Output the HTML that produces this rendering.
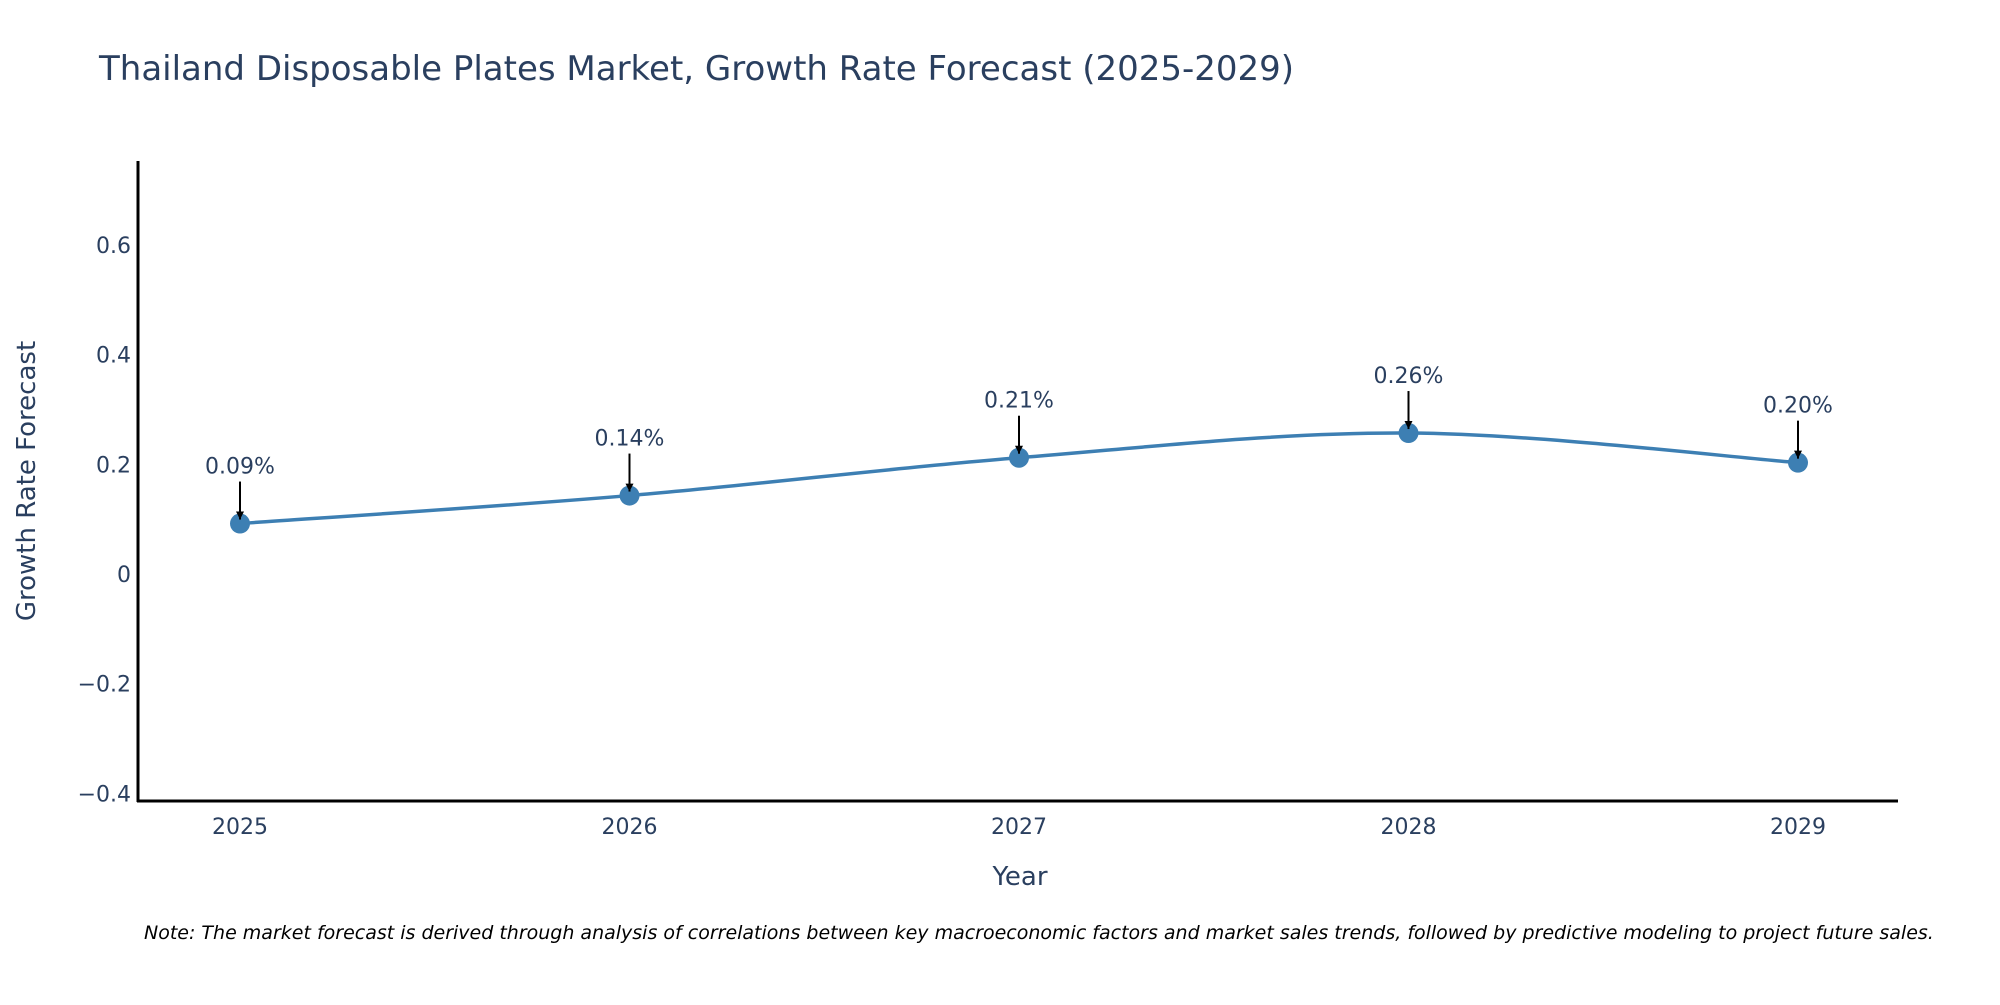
<!DOCTYPE html>
<html><head><meta charset="utf-8"><style>
body{margin:0;background:#fff;overflow:hidden;}
svg text{font-family:"DejaVu Sans","Liberation Sans",sans-serif;fill:#2a3f5f;}
</style></head><body>
<svg id="chart" width="2000" height="1000" xmlns="http://www.w3.org/2000/svg">
<defs><marker id="ah" viewBox="0 0 10 10" refX="10" refY="5" markerWidth="4" markerHeight="4" markerUnits="strokeWidth" orient="auto"><path d="M0,0 L10,5 L0,10 z" fill="#000"/></marker></defs>
<text x="99" y="80" font-size="34">Thailand Disposable Plates Market, Growth Rate Forecast (2025-2029)</text>
<g id="yticks"></g><g id="xticks"></g>
<line x1="138" y1="161" x2="138" y2="802" stroke="#000" stroke-width="3"/>
<line x1="137" y1="801" x2="1898" y2="801" stroke="#000" stroke-width="3"/>
<path id="line" fill="none" stroke="#3d7fb3" stroke-width="3.5"/>
<g id="pts"></g><g id="ann"></g>
<text x="1020" y="885" font-size="26" text-anchor="middle">Year</text>
<text transform="translate(35,481) rotate(-90)" font-size="26" text-anchor="middle">Growth Rate Forecast</text>
<text x="144" y="939" font-size="19" font-style="italic" style="fill:#000">Note: The market forecast is derived through analysis of correlations between key macroeconomic factors and market sales trends, followed by predictive modeling to project future sales.</text>
</svg>
<script>
const years=[2025,2026,2027,2028,2029];
const values=[0.092,0.143,0.212,0.257,0.203];
const labels=["0.09%","0.14%","0.21%","0.26%","0.20%"];
const yTicks=[-0.4,-0.2,0,0.2,0.4,0.6];
const yTickLabels=["\u22120.4","\u22120.2","0","0.2","0.4","0.6"];
const NS="http://www.w3.org/2000/svg";
const X=v=>240+(v-2025)*389.5;
const Y=v=>574-v*548.5;
function mk(t,a,p){const e=document.createElementNS(NS,t);for(const k in a)e.setAttribute(k,a[k]);p.appendChild(e);return e;}
const yt=document.getElementById('yticks');
yTicks.forEach((t,i)=>{const e=mk('text',{x:131,y:Y(t)+8,'font-size':22,'text-anchor':'end'},yt);e.textContent=yTickLabels[i];

});
const xt=document.getElementById('xticks');
years.forEach(y=>{const e=mk('text',{x:X(y),y:834,'font-size':22,'text-anchor':'middle'},xt);e.textContent=y;

});
const P=years.map((y,i)=>[X(y),Y(values[i])]);
let d='M'+P[0][0]+','+P[0][1];
for(let i=0;i<P.length-1;i++){const p0=P[Math.max(0,i-1)],p1=P[i],p2=P[i+1],p3=P[Math.min(P.length-1,i+2)];
const c1=[p1[0]+(p2[0]-p0[0])/6,p1[1]+(p2[1]-p0[1])/6],c2=[p2[0]-(p3[0]-p1[0])/6,p2[1]-(p3[1]-p1[1])/6];
d+=` C${c1[0]},${c1[1]} ${c2[0]},${c2[1]} ${p2[0]},${p2[1]}`;}
document.getElementById('line').setAttribute('d',d);
const pts=document.getElementById('pts'),ann=document.getElementById('ann');
P.forEach((p,i)=>{const c=mk('circle',{cx:p[0],cy:p[1],r:10,fill:'#3d7fb3'},pts);


const l=mk('line',{x1:p[0],y1:p[1]-42,x2:p[0],y2:p[1]-4,stroke:'#000','stroke-width':2,'marker-end':'url(#ah)'},ann);


const t=mk('text',{x:p[0],y:p[1]-50,'font-size':22,'text-anchor':'middle'},ann);t.textContent=labels[i];

});
</script>
</body></html>
